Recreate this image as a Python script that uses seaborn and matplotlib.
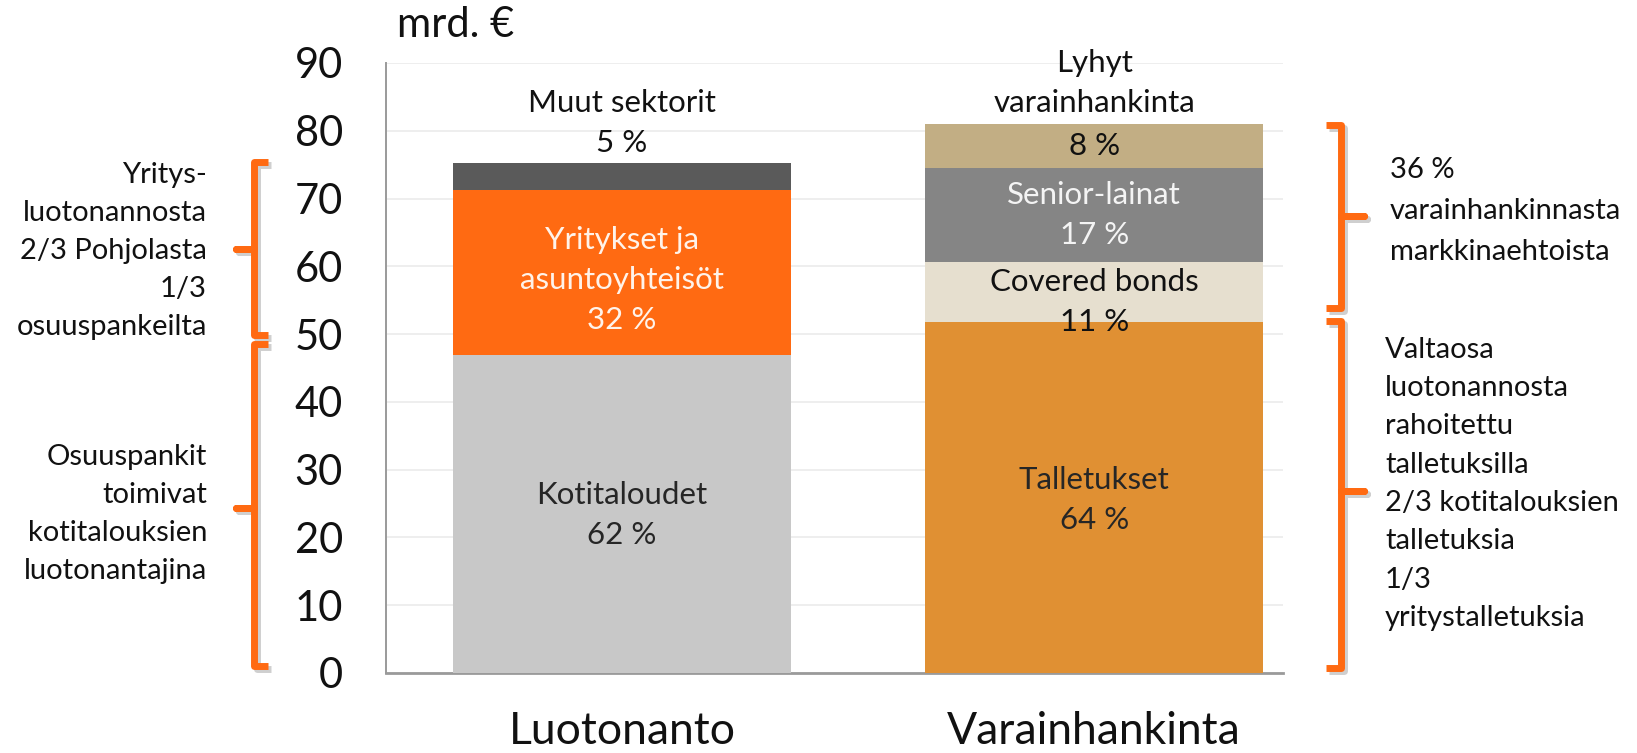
import matplotlib
matplotlib.use("Agg")
import matplotlib.pyplot as plt
import matplotlib.patheffects as pe
import numpy as np
import pandas as pd
import seaborn as sns

# ---- data (mrd. €) ----
categories = ["Luotonanto", "Varainhankinta"]

lending_parts = ["Kotitaloudet", "Yritykset ja\nasuntoyhteisöt", "Muut sektorit"]
lending_values = [46.9, 24.3, 4.0]

funding_parts = ["Talletukset", "Covered bonds", "Senior-lainat", "Lyhyt\nvarainhankinta"]
funding_values = [51.8, 8.8, 13.9, 6.5]

y_ticks = [0, 10, 20, 30, 40, 50, 60, 70, 80, 90]
unit_label = "mrd. €"

left_notes = ["Yritys-\nluotonannosta\n2/3 Pohjolasta\n1/3\nosuuspankeilta",
              "Osuuspankit\ntoimivat\nkotitalouksien\nluotonantajina"]
right_notes = ["36 %\nvarainhankinnasta\nmarkkinaehtoista",
               "Valtaosa\nluotonannosta\nrahoitettu\ntalletuksilla\n2/3 kotitalouksien\ntalletuksia\n1/3\nyritystalletuksia"]

# ---- styling ----
lending_colors = ["#C8C8C8", "#FF6A12", "#5A5A5A"]
funding_colors = ["#E09033", "#E6DFCF", "#858585", "#C2AE84"]
lending_text = ["#262626", "#FFF3EA", "#111111"]
funding_text = ["#262626", "#111111", "#F4F4F4", "#111111"]
brace_color = "#FF6A12"

sns.set_theme(style="white")
plt.rcParams["font.family"] = ["Lato", "DejaVu Sans"]

# long table: one row per stacked segment
rows = []
for cat, parts, vals, cols, tcols in [
    (categories[0], lending_parts, lending_values, lending_colors, lending_text),
    (categories[1], funding_parts, funding_values, funding_colors, funding_text),
]:
    total = float(np.sum(vals))
    cum = np.cumsum(vals)
    for i, (p, v, c, tc) in enumerate(zip(parts, vals, cols, tcols)):
        rows.append(dict(category=cat, part=p, value=v, top=cum[i], base=cum[i] - v,
                         pct=round(100 * v / total), color=c, tcolor=tc))
df = pd.DataFrame(rows)

W, H = 1637, 753
fig = plt.figure(figsize=(W / 100, H / 100), dpi=100)
ax = fig.add_axes([386 / W, 1 - 673 / H, (1283 - 386) / W, (673 - 63) / H])

# stacked bars: draw cumulative heights from the tallest layer down
for _, r in df.sort_values("top", ascending=False).iterrows():
    sns.barplot(data=pd.DataFrame([r]), x="category", y="top", order=categories,
                color=r["color"], saturation=1, width=0.716, errorbar=None,
                linewidth=0, ax=ax, zorder=3)

ax.set_ylim(0, 90)
ax.set_xlim(-0.5, 1.4)
ax.set_yticks(y_ticks)
ax.set_yticklabels([str(t) for t in y_ticks], fontsize=30, color="#111111")
ax.set_xticks(range(len(categories)))
ax.set_xticklabels(categories, fontsize=32, color="#111111")
ax.tick_params(axis="y", length=0, pad=31)
ax.tick_params(axis="x", length=0, pad=27)
ax.set_xlabel("")
ax.set_ylabel("")
ax.yaxis.grid(True, color="#EDEDED", linewidth=1.3, zorder=0)
ax.set_axisbelow(True)
for s in ["top", "right"]:
    ax.spines[s].set_visible(False)
ax.spines["left"].set_color("#9A9A9A")
ax.spines["left"].set_linewidth(1.4)
ax.spines["bottom"].set_color("#9A9A9A")
ax.spines["bottom"].set_linewidth(2.0)

fig.text(397 / W, 1 - 25 / H, unit_label, fontsize=30, color="#111111",
         ha="left", va="center")

# ---- segment labels ----
PX = (673 - 63) / 90.0          # pixels per data unit
step = 40 / PX                  # line step of in-bar labels
label_center = {
    "Kotitaloudet": 23.3,
    "Yritykset ja\nasuntoyhteisöt": 58.0,
    "Muut sektorit": 81.2,
    "Talletukset": 25.5,
    "Covered bonds": 54.7,
    "Senior-lainat": 67.55,
}
SEG_FS = 22.5


def stacked_lines(x, yc, lines, dy, transform, **kw):
    n = len(lines)
    for i, s in enumerate(lines):
        ax.text(x, yc + (n - 1) / 2 * dy - i * dy, s, transform=transform,
                clip_on=False, va="center", **kw)


for _, r in df.iterrows():
    xi = categories.index(r["category"])
    pct = f"{r['pct']} %"
    if r["part"] in label_center:
        lines = r["part"].split("\n") + [pct]
        stacked_lines(xi, label_center[r["part"]], lines, step, ax.transData,
                      ha="center", fontsize=SEG_FS, color=r["tcolor"], zorder=5)
    else:
        # short-term funding: name above the bar, share inside the segment
        stacked_lines(xi, 87.0, r["part"].split("\n"), step, ax.transData,
                      ha="center", fontsize=SEG_FS, color="#111111", zorder=5)
        ax.text(xi, (r["base"] + r["top"]) / 2, pct, ha="center", va="center",
                fontsize=SEG_FS, color=r["tcolor"], zorder=5)

# ---- braces and side notes ----
trans = ax.get_yaxis_transform()   # x in axes fraction, y in data units


def fx(px):
    return (px - 386) / (1283 - 386)


def brace(v, serif, nub, top, bottom, mid):
    xs = [fx(serif), fx(v), fx(v), fx(nub), fx(v), fx(v), fx(serif)]
    ys = [top, top, mid, mid, mid, bottom, bottom]
    ax.plot(xs, ys, transform=trans, clip_on=False, color=brace_color, lw=5,
            solid_joinstyle="round", solid_capstyle="butt", zorder=6,
            path_effects=[pe.SimpleLineShadow(offset=(2, -2), shadow_color="#777777", alpha=0.35),
                          pe.Normal()])


brace(254, 268, 236, 75.4, 49.9, 62.5)
brace(254, 268, 236, 48.5, 1.0, 24.3)
brace(1341, 1326, 1364, 80.8, 53.8, 67.4)
brace(1341, 1326, 1364, 51.9, 0.7, 26.8)

NOTE_FS = 21
note_step = 38 / PX
stacked_lines(fx(207), 62.2, left_notes[0].split("\n"), note_step, trans,
              ha="right", fontsize=NOTE_FS, color="#111111")
stacked_lines(fx(207), 23.5, left_notes[1].split("\n"), note_step, trans,
              ha="right", fontsize=NOTE_FS, color="#111111")
stacked_lines(fx(1390), 68.1, right_notes[0].split("\n"), 41 / PX, trans,
              ha="left", fontsize=NOTE_FS, color="#111111")
stacked_lines(fx(1385), 27.9, right_notes[1].split("\n"), 38.3 / PX, trans,
              ha="left", fontsize=NOTE_FS, color="#111111")

fig.savefig("out.png", dpi=100)
